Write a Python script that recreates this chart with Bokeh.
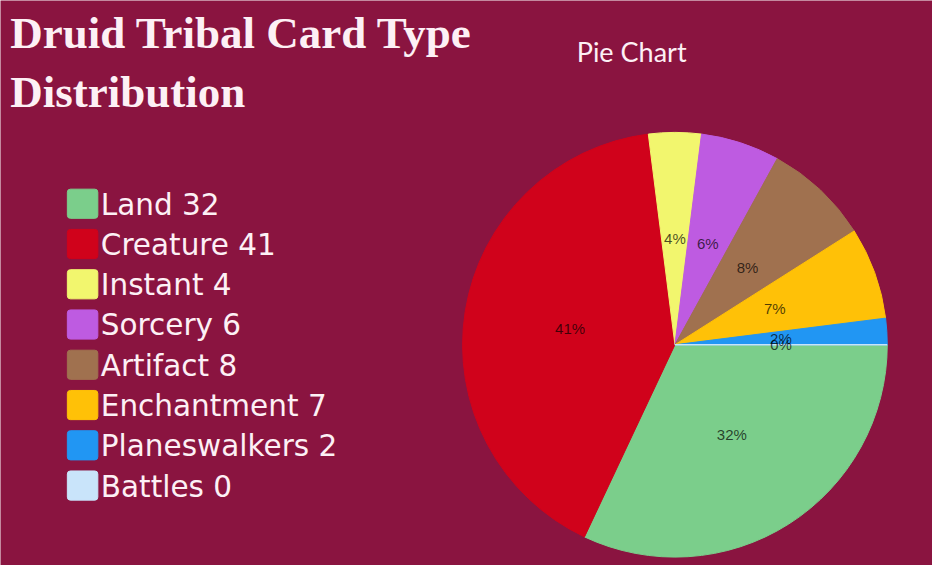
import numpy as np
from bokeh.plotting import figure
from bokeh.models import Range1d, ColumnDataSource
from bokeh.core.properties import value
from bokeh.embed import file_html
from bokeh.resources import INLINE

# ---- data ----
categories = ["Land", "Creature", "Instant", "Sorcery", "Artifact", "Enchantment", "Planeswalkers", "Battles"]
counts = [32, 41, 4, 6, 8, 7, 2, 0]
colors = ["#7BCE8B", "#D0021B", "#F2F66E", "#BE5BE1", "#A0714F", "#FFC107", "#2196F3", "#C9E4FA"]
title_lines = ["Druid Tribal Card Type", "Distribution"]
chart_title = "Pie Chart"

BG = "#8A1440"
FG = "#FDF0F5"
W, H = 932, 565
KX, KY = W / 948, H / 581

p = figure(width=W, height=H, output_backend="svg", toolbar_location=None,
           x_range=Range1d(0, W), y_range=Range1d(0, H), min_border=0)
p.axis.visible = False
p.grid.visible = False
p.outline_line_color = None
p.background_fill_color = BG
p.border_fill_color = BG

def sx(v):
    return np.asarray(v) * KX

def sy(v):
    return H - np.asarray(v) * KY

# ---- pie ----
total = sum(counts)
frac = np.array(counts) / total
cum = np.cumsum(frac)
prev = cum - frac
cx, cy, r = float(sx(686)), float(sy(354)), 216 * KX
nz = np.array(counts) > 0
src = ColumnDataSource(dict(
    start=(-cum[nz] * 2 * np.pi).tolist(),
    end=(-prev[nz] * 2 * np.pi).tolist(),
    color=[c for c, k in zip(colors, nz) if k],
))
p.wedge(x=cx, y=cy, radius=r, start_angle="start", end_angle="end",
        fill_color="color", line_color="color", line_width=1, source=src)
# zero-size slices show only as a thin edge line
z = ~nz
zang = -prev[z] * 2 * np.pi
p.segment(x0=[cx] * int(z.sum()), y0=[cy] * int(z.sum()),
          x1=(cx + r * np.cos(zang)).tolist(), y1=(cy + r * np.sin(zang)).tolist(),
          line_color=[c for c, k in zip(colors, z) if k], line_width=1.5)

mid = -(prev + frac / 2) * 2 * np.pi
lab = ColumnDataSource(dict(
    x=(cx + 0.5 * r * np.cos(mid)).tolist(),
    y=(cy + 0.5 * r * np.sin(mid)).tolist(),
    t=[f"{round(f * 100)}%" for f in frac],
))
p.text(x="x", y="y", text="t", source=lab, text_align="center", text_baseline="middle",
       text_font=value("Liberation Sans"), text_font_size="15px",
       text_color="#000000", text_alpha=0.7)

# ---- titles ----
tsrc = ColumnDataSource(dict(x=sx([10, 10]).tolist(), y=sy([33, 94]).tolist(), t=title_lines))
p.text(x="x", y="y", text="t", source=tsrc, text_align="left", text_baseline="middle",
       text_font=value("Liberation Serif"), text_font_size="45px", text_font_style="bold",
       text_color=FG)
p.text(x=[float(sx(642))], y=[float(sy(52))], text=[chart_title], text_align="center",
       text_baseline="middle", text_font=value("Lato"), text_font_size="27px", text_color=FG)

# ---- legend ----
step = 41.4
idx = np.arange(len(categories))
tops = sy(194 + step * idx)
n = len(categories)
lsrc = ColumnDataSource(dict(
    left=[float(sx(68))] * n, right=[float(sx(99))] * n,
    top=tops.tolist(), bottom=(tops - 30 * KY).tolist(), color=colors,
))
p.quad(left="left", right="right", top="top", bottom="bottom", fill_color="color",
       line_color="color", source=lsrc, border_radius=3)
ltxt = ColumnDataSource(dict(
    x=[float(sx(102))] * n, y=sy(210 + step * idx).tolist(),
    t=[f"{c} {k}" for c, k in zip(categories, counts)],
))
p.text(x="x", y="y", text="t", source=ltxt, text_align="left", text_baseline="middle",
       text_font=value("DejaVu Sans"), text_font_size="29.5px", text_color=FG)

open("out.html", "w").write(file_html(p, INLINE))
